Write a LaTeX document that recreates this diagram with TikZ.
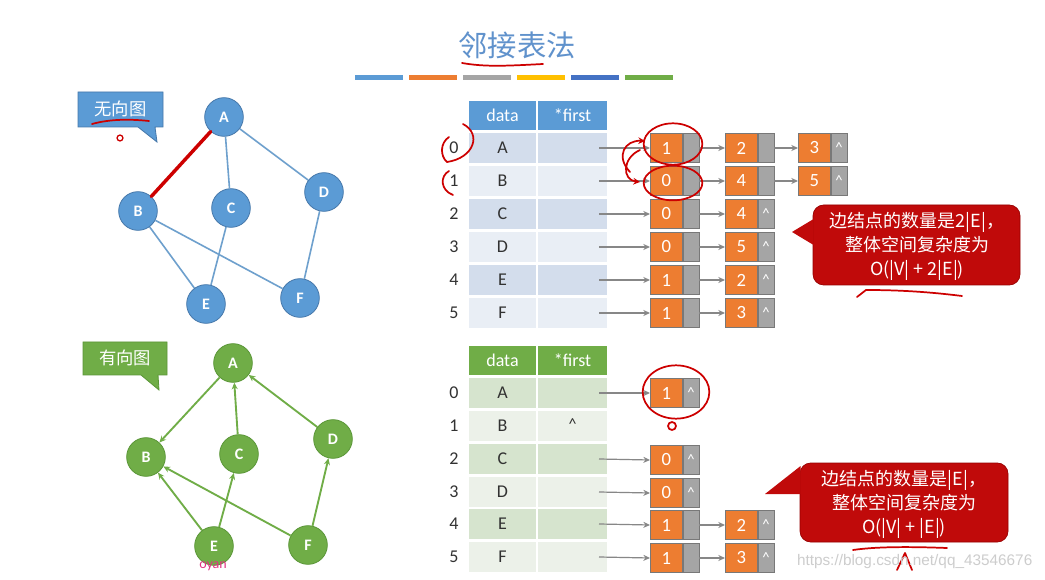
\documentclass[tikz,border=0pt]{standalone}
\usepackage{fontspec}
\setmainfont{Carlito}
\newfontfamily\cjk{Noto Sans CJK SC}
\newfontfamily\wmfont{Liberation Sans}
\usetikzlibrary{arrows.meta,calc}
\definecolor{titleblue}{RGB}{96,146,204}
\definecolor{blueN}{RGB}{91,155,213}
\definecolor{blueB}{RGB}{70,120,170}
\definecolor{blueE}{RGB}{110,160,205}
\definecolor{greenN}{RGB}{112,173,71}
\definecolor{greenB}{RGB}{90,150,55}
\definecolor{barA}{RGB}{91,155,213}
\definecolor{barB}{RGB}{237,125,49}
\definecolor{barC}{RGB}{165,165,165}
\definecolor{barD}{RGB}{255,192,0}
\definecolor{barE}{RGB}{68,114,196}
\definecolor{barF}{RGB}{112,173,71}
\definecolor{rowBa}{RGB}{211,221,236}
\definecolor{rowBb}{RGB}{233,238,245}
\definecolor{rowGa}{RGB}{214,228,206}
\definecolor{rowGb}{RGB}{236,241,233}
\definecolor{orangeN}{RGB}{237,125,49}
\definecolor{grayN}{RGB}{165,165,165}
\definecolor{grayB}{RGB}{120,120,120}
\definecolor{arrowgray}{RGB}{135,135,135}
\definecolor{calloutred}{RGB}{192,10,10}
\definecolor{calloutredB}{RGB}{150,0,0}
\definecolor{pen}{RGB}{205,0,0}
\definecolor{txt}{RGB}{50,50,50}
\definecolor{wm}{RGB}{205,205,205}
\newcommand\lnk[5]{\node[onode] (#1) at (#2,#3) {#4}; \node[gnode] (#1p) at (#1.east) {#5};}
\begin{document}
\begin{tikzpicture}[x=0.75pt,y=-0.75pt,
  gnodeU/.style={circle, fill=blueN, draw=blueB, line width=0.6pt, minimum size=29pt, inner sep=0pt, text=white, font=\bfseries\fontsize{12}{14}\selectfont},
  gnodeD/.style={circle, fill=greenN, draw=greenB, line width=0.6pt, minimum size=29pt, inner sep=0pt, text=white, font=\bfseries\fontsize{12}{14}\selectfont},
  uedge/.style={draw=blueE, line width=1.2pt},
  dedge/.style={draw=greenN, line width=1.4pt, -{Stealth[length=5pt,width=4.5pt]}},
  hcellB/.style={rectangle, fill=blueN, draw=white, line width=1.2pt, minimum height=23pt, inner sep=0pt, text=white, font=\fontsize{13.5}{15}\selectfont},
  hcellG/.style={rectangle, fill=greenN, draw=white, line width=1.2pt, minimum height=23pt, inner sep=0pt, text=white, font=\fontsize{13.5}{15}\selectfont},
  cell/.style={rectangle, draw=white, line width=1.2pt, minimum height=24pt, inner sep=0pt, text=txt, font=\fontsize{13.5}{15}\selectfont},
  idx/.style={text=txt, font=\fontsize{13.5}{15}\selectfont},
  onode/.style={rectangle, anchor=west, fill=orangeN, draw=grayB, line width=0.5pt, minimum width=24pt, minimum height=22pt, inner sep=0pt, text=white, font=\fontsize{14}{16}\selectfont},
  gnode/.style={rectangle, anchor=west, fill=grayN, draw=grayB, line width=0.5pt, minimum width=12pt, minimum height=22pt, inner sep=0pt, text=white, font=\fontsize{11}{13}\selectfont},
  ptr/.style={draw=arrowgray, line width=0.9pt, -{Stealth[length=5pt,width=4.5pt]}},
  redpen/.style={draw=pen, line width=1.3pt, line cap=round, line join=round},
  calltext/.style={text=white, align=center, font=\cjk\fontsize{13.5}{18}\selectfont}
]
\useasboundingbox (0,0) rectangle (1045,580);
\fill[white] (0,0) rectangle (1045,580);

% title
\node[font=\cjk\fontsize{22}{26}\selectfont, text=titleblue] (title) at (517,45) {邻接表法};
\foreach \c [count=\i from 0] in {barA,barB,barC,barD,barE,barF}
  \fill[\c] (355+\i*54,75) rectangle ++(48,5);
\draw[redpen] (462,63) .. controls (485,67) and (505,66) .. (543,64);

% ---------- undirected graph ----------
\path[fill=blueN, draw=blueB, line width=0.6pt] (78,92) -- (163,92) -- (163,127) -- (155,127) -- (157,142) -- (138,127) -- (78,127) -- cycle;
\node[text=white, font=\cjk\fontsize{13}{15}\selectfont] (ulab) at (120.5,109) {无向图};
\draw[redpen] (92,124) .. controls (110,119) and (130,119) .. (149,121);
\draw[redpen, line width=1pt] (120,138) circle (2.2pt);

\node[gnodeU] (uA) at (224,117) {A};
\node[gnodeU] (uB) at (138,211) {B};
\node[gnodeU] (uC) at (231,208) {C};
\node[gnodeU] (uD) at (324,192) {D};
\node[gnodeU] (uE) at (206,304) {E};
\node[gnodeU] (uF) at (300,298) {F};
\draw[uedge] (uA) -- (uC);
\draw[uedge] (uA) -- (uD);
\draw[uedge] (uB) -- (uE);
\draw[uedge] (uB) -- (uF);
\draw[uedge] (uC) -- (uE);
\draw[uedge] (uD) -- (uF);
\draw[draw=pen, line width=2.6pt, line cap=round] (uA) -- (uB);

% ---------- directed graph ----------
\path[fill=greenN, draw=greenB, line width=0.6pt] (83,342) -- (167,342) -- (167,375) -- (158,375) -- (159,390) -- (141,375) -- (83,375) -- cycle;
\node[text=white, font=\cjk\fontsize{13}{15}\selectfont] (dlab) at (125,358) {有向图};

\node[gnodeD] (dA) at (233,363) {A};
\node[gnodeD] (dB) at (146,457) {B};
\node[gnodeD] (dC) at (239,454) {C};
\node[gnodeD] (dD) at (333,439) {D};
\node[gnodeD] (dE) at (214,546) {E};
\node[gnodeD] (dF) at (308,545) {F};
\draw[dedge] (dA) -- (dB);
\draw[dedge] (dC) -- (dA);
\draw[dedge] (dD) -- (dA);
\draw[dedge] (dE) -- (dB);
\draw[dedge] (dE) -- (dC);
\draw[dedge] (dF) -- (dB);
\draw[dedge] (dF) -- (dD);
\node[text={rgb,255:red,225;green,50;blue,130}, font=\fontsize{10.5}{12}\selectfont, inner sep=0pt] (oy) at (213,566) {oyan};

% ---------- table 1 ----------
\node[hcellB, minimum width=52pt] (t1hd) at (502.5,115.5) {data};
\node[hcellB, minimum width=53pt] (t1hf) at (572.5,115.5) {*first};
\foreach \i/\l/\y/\rcol in {0/A/148/rowBa,1/B/181/rowBb,2/C/214/rowBa,3/D/247/rowBb,4/E/280/rowBa,5/F/313/rowBb}{
  \node[cell, fill=\rcol, minimum width=52pt] (t1d\i) at (502.5,\y) {\l};
  \node[cell, fill=\rcol, minimum width=53pt] (t1f\i) at (572.5,\y) {};
  \node[idx] (t1i\i) at (454,\y) {\i};
  \coordinate (s1\i) at (599,\y);
}
\lnk{a0}{650}{148}{1}{}
\lnk{a1}{725}{148}{2}{}
\lnk{a2}{798}{148}{3}{\textasciicircum}
\lnk{b0}{650}{181}{0}{}
\lnk{b1}{725}{181}{4}{}
\lnk{b2}{798}{181}{5}{\textasciicircum}
\lnk{c0}{650}{214}{0}{}
\lnk{c1}{725}{214}{4}{\textasciicircum}
\lnk{e0}{650}{247}{0}{}
\lnk{e1}{725}{247}{5}{\textasciicircum}
\lnk{f0}{650}{280}{1}{}
\lnk{f1}{725}{280}{2}{\textasciicircum}
\lnk{g0}{650}{313}{1}{}
\lnk{g1}{725}{313}{3}{\textasciicircum}
\draw[ptr] (s10) -- (a0.west);
\draw[ptr] (s11) -- (b0.west);
\draw[ptr] (s12) -- (c0.west);
\draw[ptr] (s13) -- (e0.west);
\draw[ptr] (s14) -- (f0.west);
\draw[ptr] (s15) -- (g0.west);
\draw[ptr] (a0p.east) -- (a1.west);
\draw[ptr] (a1p.east) -- (a2.west);
\draw[ptr] (b0p.east) -- (b1.west);
\draw[ptr] (b1p.east) -- (b2.west);
\draw[ptr] (c0p.east) -- (c1.west);
\draw[ptr] (e0p.east) -- (e1.west);
\draw[ptr] (f0p.east) -- (f1.west);
\draw[ptr] (g0p.east) -- (g1.west);

% red marks table 1
\draw[redpen] (463,124) .. controls (482,134) and (474,158) .. (447,162);
\draw[redpen] (449,137) .. controls (440,143) and (440,156) .. (447,162);
\draw[redpen] (449,171) .. controls (440,176) and (440,190) .. (453,195);
\draw[redpen] (673,144) ellipse [x radius=22pt, y radius=15.5pt];
\draw[redpen] (673,183) ellipse [x radius=22pt, y radius=13pt];
\draw[redpen, -{Stealth[length=5pt,width=5pt]}] (630,172) .. controls (615,156) and (625,140) .. (645,141);
\draw[redpen, -{Stealth[length=5pt,width=5pt]}] (640,150) .. controls (622,158) and (622,180) .. (640,182);

% callout 1
\path[fill=calloutred, draw=calloutredB, line width=0.5pt, rounded corners=8pt] (813,205) rectangle (1020,285);
\fill[calloutred] (813.6,219) -- (792,232) -- (813.6,245) -- cycle;
\node[calltext] (co1) at (917,246) {边结点的数量是2|E|，\\整体空间复杂度为\\O(|V| + 2|E|)};
\draw[redpen] (857,297) -- (866,290) .. controls (900,290) and (930,292) .. (962,296);

% ---------- table 2 ----------
\node[hcellG, minimum width=52pt] (t2hd) at (502.5,360.5) {data};
\node[hcellG, minimum width=53pt] (t2hf) at (572.5,360.5) {*first};
\foreach \i/\l/\y/\rcol in {0/A/393/rowGa,1/B/426/rowGb,2/C/459/rowGa,3/D/492/rowGb,4/E/524/rowGa,5/F/557/rowGb}{
  \node[cell, fill=\rcol, minimum width=52pt] (t2d\i) at (502.5,\y) {\l};
  \node[cell, fill=\rcol, minimum width=53pt] (t2f\i) at (572.5,\y) {};
  \node[idx] (t2i\i) at (454,\y) {\i};
  \coordinate (s2\i) at (599,\y);
}
\node[text=txt, font=\fontsize{12}{14}\selectfont] (t2nil) at (572.5,424) {\textasciicircum};
\lnk{p0}{650}{393}{1}{\textasciicircum}
\lnk{q0}{650}{460}{0}{\textasciicircum}
\lnk{r0}{650}{493}{0}{\textasciicircum}
\lnk{s0}{650}{525}{1}{}
\lnk{s1}{725}{525}{2}{\textasciicircum}
\lnk{u0}{650}{558}{1}{}
\lnk{u1}{725}{558}{3}{\textasciicircum}
\draw[ptr] (s20) -- (p0.west);
\draw[ptr] (s22) -- (q0.west);
\draw[ptr] (s23) -- (r0.west);
\draw[ptr] (s24) -- (s0.west);
\draw[ptr] (s25) -- (u0.west);
\draw[ptr] (s0p.east) -- (s1.west);
\draw[ptr] (u0p.east) -- (u1.west);

\draw[redpen] (676,392) ellipse [x radius=25pt, y radius=20pt];
\draw[redpen] (672,426) circle (3pt);

% callout 2
\path[fill=calloutred, draw=calloutredB, line width=0.5pt, rounded corners=8pt] (800,463) rectangle (1008,542);
\fill[calloutred] (800.6,466) -- (765,494) -- (800.6,494) -- cycle;
\node[calltext] (co2) at (904,504) {边结点的数量是|E|，\\整体空间复杂度为\\O(|V| + |E|)};
\draw[redpen] (853,550) .. controls (880,546) and (920,547) .. (947,548);
\draw[redpen] (897,570) -- (905,553) -- (912,570);

% watermark
\node[anchor=east, text=wm, font=\wmfont\fontsize{11.5}{13}\selectfont] (wmk) at (1037,562) {https://blog.csdn.net/qq\_43546676};
\end{tikzpicture}
\end{document}
